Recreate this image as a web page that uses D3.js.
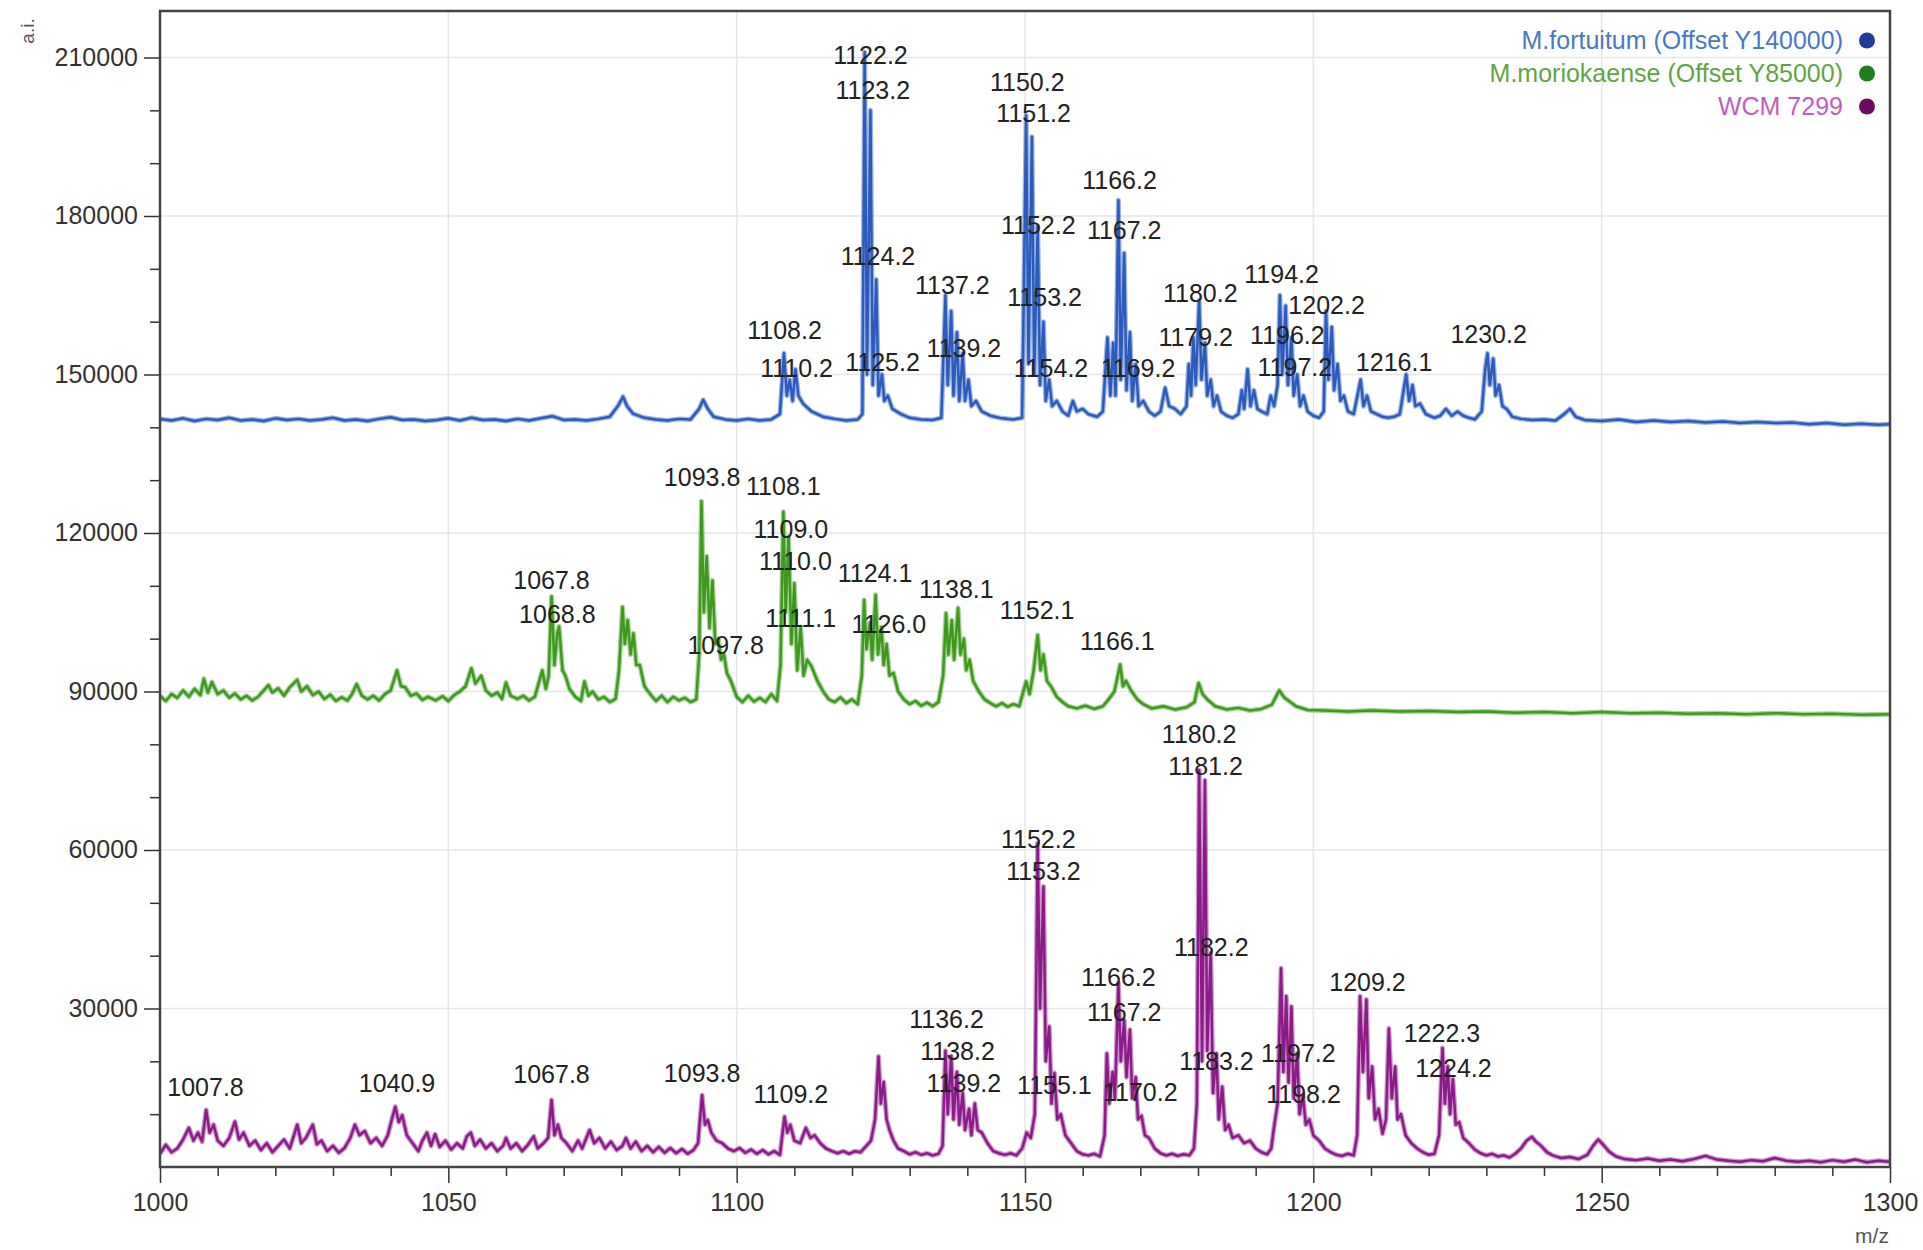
<!DOCTYPE html>
<html>
<head>
<meta charset="utf-8">
<script src="https://cdn.jsdelivr.net/npm/d3@7"></script>
<style>
  body { margin: 0; background: #fff; }
  svg text { font-family: "Liberation Sans", Arial, sans-serif; }
</style>
</head>
<body>
<div id="chart"></div>
<script>
// m/z axis
const xTicks = [1000, 1050, 1100, 1150, 1200, 1250, 1300];
const yTicks = [30000, 60000, 90000, 120000, 150000, 180000, 210000];

const seriesNames = ['M.fortuitum (Offset Y140000)', 'M.moriokaense (Offset Y85000)', 'WCM 7299'];
const seriesOffsets = [140000, 85000, 0];

// M.fortuitum spectrum [m/z, intensity]
const fortuitum = [
  [1000,1600],[1002,1300],[1004,1700],[1006,1200],[1008,1600],[1010,1400],[1012,1800],[1014,1300],[1016,1500],[1018,1200],
  [1020,1700],[1022,1400],[1024,1600],[1026,1300],[1028,1500],[1030,1800],[1032,1300],[1034,1500],[1036,1200],[1038,1600],
  [1040,1900],[1042,1400],[1044,1500],[1046,1200],[1048,1400],[1050,1700],[1052,1300],[1054,1800],[1056,1400],[1058,1500],
  [1060,1200],[1062,1600],[1064,1300],[1066,1700],[1068,2100],[1070,1400],[1072,1500],[1074,1300],[1076,1600],[1078,2000],
  [1079.5,4200],[1080.3,5800],[1081,4000],[1082,2600],[1084,1800],[1086,1500],[1088,1300],[1090,1600],[1092,1500],[1093.5,3500],
  [1094.2,5200],[1095,3500],[1096,2000],[1098,1500],[1100,1300],[1102,1600],[1104,1300],[1106,1500],[1107.5,2500],[1108.2,14000],
  [1108.7,6000],[1109.2,9000],[1109.7,5000],[1110.2,11000],[1110.7,6000],[1111.5,4500],[1113,3000],[1115,2000],[1117,1600],[1119,1300],
  [1121,1500],[1121.8,2500],[1122.2,71000],[1122.6,10000],[1123.2,60000],[1123.6,8000],[1124.2,28000],[1124.6,6000],[1125.2,10000],[1125.6,5000],
  [1126.2,6000],[1127,3500],[1128.5,2500],[1130,1800],[1132,1500],[1134,1400],[1135.5,1800],[1136.2,25000],[1136.6,8000],[1137.2,22000],
  [1137.6,6000],[1138.2,18000],[1138.6,5000],[1139.2,14000],[1139.6,5000],[1140.2,9000],[1140.7,4000],[1141.5,5000],[1142.5,3000],[1144,2200],
  [1146,1700],[1148,1500],[1149.5,1800],[1150.2,59000],[1150.6,12000],[1151.2,55000],[1151.6,10000],[1152.2,38000],[1152.6,8000],[1153.2,20000],
  [1153.6,5000],[1154.2,9000],[1154.7,4000],[1155.5,5000],[1156.5,3000],[1157.5,2200],[1158.3,5000],[1159,3000],[1160,3500],[1161,2500],
  [1162.5,2000],[1163.5,3000],[1164.3,17000],[1164.8,6000],[1165.3,16000],[1165.7,6000],[1166.2,43000],[1166.6,9000],[1167.2,33000],[1167.6,7000],
  [1168.2,18000],[1168.6,5000],[1169.2,12000],[1169.7,4000],[1170.5,5000],[1171.5,3000],[1172.5,2200],[1173.5,3000],[1174.3,7500],[1175,4000],
  [1176,3500],[1177,2500],[1178,4000],[1178.4,12000],[1178.8,6000],[1179.2,17000],[1179.6,8000],[1180.2,24000],[1180.6,9000],[1181.2,16000],
  [1181.6,6000],[1182.2,9000],[1182.7,4000],[1183.3,6000],[1184,3000],[1185,2200],[1186,1800],[1187,2500],[1187.6,7000],[1188,3500],
  [1188.6,11000],[1189.1,4000],[1189.7,7000],[1190.3,3500],[1191,3000],[1192,2500],[1192.6,6000],[1193.2,4000],[1193.8,8000],[1194.2,25000],
  [1194.6,10000],[1195.2,23000],[1195.6,8000],[1196.2,17000],[1196.6,6000],[1197.2,10000],[1197.7,4000],[1198.3,6000],[1199,3000],[1200,2200],
  [1201,1800],[1201.8,3000],[1202.2,22000],[1202.6,9000],[1203.2,19000],[1203.6,7000],[1204.2,12000],[1204.7,5000],[1205.3,6000],[1206,3000],
  [1207,2500],[1208.2,9000],[1208.7,4000],[1209.3,6000],[1210,3000],[1211,2500],[1212,2000],[1213,1800],[1214,2000],[1215,2500],
  [1215.8,8000],[1216.1,10000],[1216.6,5000],[1217.2,8000],[1217.7,4000],[1218.5,4500],[1219.5,2500],[1221,1800],[1222,2200],[1223,3500],
  [1224,2200],[1225,3000],[1226,2200],[1227,1800],[1228,1500],[1229.2,3000],[1229.8,11000],[1230.2,14000],[1230.6,8000],[1231.2,13000],
  [1231.6,6000],[1232.2,8000],[1232.8,4000],[1233.5,3500],[1234.5,2000],[1236,1600],[1238,1400],[1240,1500],[1242,1300],[1243.5,2500],
  [1244.5,3500],[1245.5,2000],[1247,1400],[1250,1200],[1253,1500],[1256,1000],[1259,1300],[1262,1000],[1265,1200],[1268,900],
  [1271,1100],[1274,800],[1277,1000],[1280,800],[1283,900],[1286,600],[1289,800],[1292,500],[1295,700],[1298,500],[1300,600]
];

// M.moriokaense spectrum [m/z, intensity]
const moriokaense = [
  [1000,4200],[1001,3200],[1002,4500],[1003,3800],[1004,5200],[1005,4000],[1006,5500],[1007,4300],[1007.6,7400],[1008.3,4800],
  [1009,6800],[1010,4500],[1011,5200],[1012,3800],[1013,4600],[1014,3500],[1015,4200],[1016,3300],[1017,4000],[1018,5200],
  [1018.8,6200],[1019.5,4800],[1020.5,5600],[1021.5,4200],[1022.5,5800],[1023.8,7200],[1024.5,5000],[1025.5,6000],[1026.5,4300],[1027.5,5000],
  [1028.5,3600],[1029.5,4400],[1030.5,3200],[1031.5,3900],[1032.5,3300],[1033.3,4500],[1034.1,6400],[1035,4200],[1036,3500],[1037,4200],
  [1038,3300],[1039,4500],[1040,5200],[1041.1,9000],[1041.8,6000],[1042.5,5800],[1043.5,4200],[1044.5,4600],[1045.5,3400],[1046.5,4000],
  [1047.8,3300],[1049,4100],[1050,3200],[1051,4300],[1052,5000],[1053,6000],[1054,9400],[1054.7,6500],[1055.7,8000],[1056.5,5200],
  [1057.5,4200],[1058.5,4800],[1059.3,3600],[1060,6700],[1060.8,4200],[1062,3600],[1063,4200],[1064,3300],[1065,4000],[1066.3,9000],
  [1066.9,5500],[1067.4,8000],[1067.9,23000],[1068.4,10000],[1068.9,16000],[1069.2,17300],[1069.8,9000],[1070.3,8000],[1071,5500],[1072,4000],
  [1073,3200],[1073.6,6900],[1074.3,4200],[1075,5000],[1076,3500],[1077,4000],[1078,3000],[1079,3600],[1079.6,9000],[1080.2,21000],
  [1080.6,14000],[1081.1,18500],[1081.6,12000],[1082.1,16000],[1082.6,10000],[1083.2,10000],[1084,6000],[1085,4500],[1086,3200],[1087,4200],
  [1088,3000],[1089,4000],[1090,3300],[1091,3800],[1092,3000],[1093,3500],[1093.5,12000],[1093.9,41000],[1094.3,20000],[1094.8,30600],
  [1095.3,17000],[1095.8,26000],[1096.3,14000],[1096.8,15000],[1097.3,11000],[1097.8,12000],[1098.3,8500],[1099,7000],[1100,4000],[1101,3000],
  [1102,4200],[1103,3100],[1104,3800],[1105,3000],[1106,4500],[1107,3200],[1107.6,10000],[1108.1,39000],[1108.5,20000],[1109.0,34300],
  [1109.5,14000],[1110.0,25500],[1110.5,9000],[1111.1,17200],[1111.6,8000],[1112.2,11000],[1113,9700],[1114,7000],[1115,5000],[1116,3500],
  [1117,3000],[1118,3900],[1119,2800],[1120,3500],[1121,2600],[1121.7,8000],[1122.1,22300],[1122.5,13000],[1123.1,18000],[1123.5,11000],
  [1124.1,23300],[1124.5,12000],[1125.1,17200],[1125.5,10000],[1126.0,14000],[1126.5,8000],[1127.2,8500],[1128,5000],[1129,3500],[1130,2600],
  [1131,3200],[1132,2300],[1133,2900],[1134,2200],[1135,3000],[1135.8,8000],[1136.3,19800],[1136.7,12000],[1137.3,18500],[1137.7,11000],
  [1138.4,20800],[1138.8,12000],[1139.4,15000],[1139.8,9000],[1140.4,11000],[1141,7000],[1142,5000],[1143,3500],[1144,2800],[1145,2200],
  [1146,2800],[1147,2100],[1148,2600],[1149,2200],[1150.2,6900],[1150.8,4500],[1151.5,9000],[1152.2,15700],[1152.7,9000],[1153.2,12000],
  [1153.8,7000],[1154.5,6000],[1155.5,4000],[1156.5,3000],[1157.5,2200],[1159,1800],[1160.5,2300],[1162,1700],[1163.5,2200],[1164.5,3500],
  [1165.5,5000],[1166.5,10100],[1167,6000],[1167.5,7000],[1168.5,5000],[1169.5,3500],[1170.5,2600],[1172,1800],[1174,2200],[1176,1600],
  [1178,2000],[1179.4,3000],[1180.1,6600],[1180.8,4500],[1181.6,3500],[1183,2200],[1185,1600],[1187,1900],[1189,1400],[1191,1700],
  [1192.8,2500],[1194.1,5200],[1195,3800],[1196,3000],[1197,2200],[1199,1500],[1202,1400],[1206,1200],[1210,1400],[1215,1200],
  [1220,1300],[1225,1100],[1230,1200],[1235,1000],[1240,1100],[1245,900],[1250,1100],[1255,900],[1260,1000],[1265,800],
  [1270,900],[1275,700],[1280,900],[1285,700],[1290,800],[1295,600],[1300,700]
];

// WCM 7299 spectrum [m/z, intensity]
const wcm7299 = [
  [1000,2500],[1001,4200],[1002,2800],[1003,3500],[1004,5200],[1005,7400],[1005.8,5000],[1006.6,6500],[1007.3,4800],[1008.0,10800],
  [1008.6,6500],[1009.3,8000],[1010,5000],[1011,4000],[1012,5500],[1013,8600],[1013.7,5200],[1014.5,6500],[1015.5,4000],[1016.5,5000],
  [1017.5,3200],[1018.5,4500],[1019.5,2800],[1020.5,4000],[1021.5,5200],[1022.5,3500],[1023.8,8000],[1024.5,4500],[1025.3,5500],[1026.5,8000],
  [1027.2,4300],[1028,5000],[1029,3000],[1030,4000],[1031,2700],[1032,3600],[1033,5500],[1033.8,8000],[1034.6,6000],[1035.5,6800],
  [1036.5,4500],[1037.5,5500],[1038.5,4000],[1039.5,6000],[1040.2,9000],[1040.8,11400],[1041.4,8500],[1042,9800],[1042.8,6000],[1043.8,4500],
  [1044.8,3000],[1045.5,5000],[1046.3,6500],[1047,4000],[1047.7,6200],[1048.5,3800],[1049.5,5000],[1050.5,3300],[1051.5,4500],[1052.5,3500],
  [1053.2,5800],[1053.9,6500],[1054.6,4000],[1055.5,5200],[1056.5,3500],[1057.5,4500],[1058.5,3000],[1059.5,4000],[1060,5500],[1060.8,3500],
  [1061.8,4500],[1062.8,3000],[1063.8,4200],[1064.8,5800],[1065.5,3500],[1066.5,4500],[1067.3,5500],[1067.9,12700],[1068.4,6000],[1069,8000],
  [1069.6,5500],[1070.5,4500],[1071.5,3000],[1072.5,5000],[1073.2,3500],[1074.5,7000],[1075.3,4500],[1076.2,5500],[1077.2,3500],[1078.2,4800],
  [1079.2,3200],[1080.2,4000],[1080.8,5500],[1081.6,3500],[1082.5,4800],[1083.5,3000],[1084.5,4000],[1085.5,2800],[1086.5,3800],[1087.5,2700],
  [1088.5,3600],[1089.5,2600],[1090.5,3400],[1091.5,2500],[1092.5,3200],[1093.3,4500],[1094.0,13600],[1094.5,8000],[1095,8900],[1095.6,6500],
  [1096.5,5000],[1097.5,4500],[1098.5,3500],[1099.5,3000],[1100.5,3600],[1101.5,2700],[1102.5,3300],[1103.5,2500],[1104.5,3200],[1105.5,2400],
  [1106.5,3000],[1107.5,2300],[1108.3,9500],[1108.8,6500],[1109.3,8000],[1110,5000],[1111,4500],[1112,7400],[1112.8,5500],[1113.5,6000],
  [1114.5,4500],[1115.5,3500],[1116.5,3000],[1117.5,2600],[1118.5,3000],[1119.5,2500],[1120.5,3000],[1121.5,2800],[1122.5,4000],[1123.3,5000],
  [1124.0,9000],[1124.6,20900],[1125,12000],[1125.5,16100],[1126,9000],[1126.5,7000],[1127.2,5000],[1128,3500],[1129,3000],[1130,2400],
  [1131,2800],[1132,2300],[1133,2600],[1134,2200],[1135,2500],[1135.7,4000],[1136.2,22000],[1136.6,10000],[1137.2,21000],[1137.6,9000],
  [1138.2,18000],[1138.6,8000],[1139.2,14000],[1139.6,7000],[1140.3,11000],[1140.7,6000],[1141.3,12000],[1141.8,7000],[1142.5,6500],[1143.5,4500],
  [1144.5,3000],[1145.5,2600],[1146.5,2300],[1147.5,2600],[1148.5,2200],[1149.5,3500],[1150.3,6500],[1151,5500],[1151.7,10000],[1152.2,61300],
  [1152.6,30000],[1153.2,53100],[1153.6,20000],[1154.2,26600],[1154.6,12000],[1155.1,17800],[1155.6,9000],[1156.2,10000],[1157,6000],[1158,4500],
  [1159,3000],[1160,2400],[1161,2200],[1162,2500],[1163,2000],[1163.8,6000],[1164.2,21500],[1164.6,12000],[1165.2,18000],[1165.6,13000],
  [1166.2,34800],[1166.6,20000],[1167.2,27800],[1167.6,17000],[1168.2,26000],[1168.6,13000],[1169.2,17000],[1169.6,9000],[1170.2,9700],[1170.8,6000],
  [1171.5,5500],[1172.5,3500],[1173.5,2600],[1174.5,2200],[1175.5,2500],[1176.5,2100],[1177.5,2400],[1178.5,2200],[1179.3,3500],[1179.8,12000],
  [1180.2,75100],[1180.7,20000],[1181.2,73200],[1181.6,22000],[1182.2,40500],[1182.6,14000],[1183.2,21500],[1183.6,9000],[1184.2,15200],[1184.7,7000],
  [1185.3,8000],[1186,5500],[1187,6000],[1188,4500],[1189,5000],[1190,3500],[1191,2800],[1192,2400],[1192.7,3500],[1193.2,7700],
  [1193.8,12000],[1194.4,37600],[1194.8,18000],[1195.3,32300],[1195.7,16000],[1196.2,30400],[1196.6,13000],[1197.2,21500],[1197.6,10000],[1198.2,13400],
  [1198.7,8000],[1199.3,9000],[1200,6000],[1201,5000],[1202,3500],[1203,2800],[1204,2300],[1205,2100],[1206,2500],[1207,2200],
  [1207.6,6000],[1208.1,32300],[1208.6,18000],[1209.2,31700],[1209.6,13000],[1210.2,19000],[1210.7,9000],[1211.3,11000],[1212,6300],[1212.6,9000],
  [1213.1,26200],[1213.6,13000],[1214.2,19000],[1214.6,9000],[1215.2,10000],[1216,6000],[1217,4500],[1218,3500],[1219,2800],[1220,2300],
  [1221,2500],[1221.8,6000],[1222.4,22500],[1222.8,12000],[1223.3,19000],[1223.7,10000],[1224.2,16600],[1224.7,8000],[1225.3,8500],[1226,5500],
  [1227,4500],[1228,3300],[1229,2600],[1230,2200],[1231,2500],[1232,2000],[1233,2200],[1234,1800],[1235,2500],[1236,3500],
  [1237,5000],[1237.9,5700],[1238.6,4800],[1239.5,4000],[1240.5,2800],[1241.5,2200],[1243,1700],[1244.5,1900],[1246,1500],[1247.5,2300],
  [1248.5,4000],[1249.4,5200],[1250.3,4200],[1251.2,3000],[1252.5,2000],[1254,1500],[1256,1300],[1258,1600],[1260,1200],[1262,1400],
  [1264,1100],[1266,1500],[1268,2100],[1270,1400],[1272,1200],[1274,1000],[1276,1300],[1278,1100],[1280,1700],[1282,1200],
  [1284,1000],[1286,1200],[1288,900],[1290,1300],[1292,1000],[1294,1400],[1296,900],[1298,1200],[1300,1000]
];

// peak annotations [text, m/z, intensity]
const fortuitumLabels = [
  ['1122.2',1123.2,70500],['1123.2',1123.6,63800],['1150.2',1150.4,65400],['1151.2',1151.5,59400],
  ['1166.2',1166.4,46800],['1152.2',1152.3,38200],['1167.2',1167.2,37300],['1124.2',1124.5,32400],
  ['1137.2',1137.4,26900],['1153.2',1153.4,24600],['1180.2',1180.4,25300],['1194.2',1194.5,29000],
  ['1202.2',1202.3,23200],['1108.2',1108.3,18300],['1179.2',1179.6,17100],['1196.2',1195.5,17400],
  ['1230.2',1230.4,17600],['1139.2',1139.4,15000],['1110.2',1110.4,11100],['1125.2',1125.3,12300],
  ['1154.2',1154.5,11100],['1169.2',1169.6,11100],['1197.2',1196.8,11300],['1216.1',1214.0,12300]
];
const moriokaenseLabels = [
  ['1093.8',1094.0,45500],['1108.1',1108.1,43800],['1109.0',1109.4,35700],['1110.0',1110.2,29700],
  ['1124.1',1124.0,27400],['1067.8',1067.9,26000],['1138.1',1138.1,24300],['1068.8',1068.9,19700],
  ['1152.1',1152.1,20400],['1111.1',1111.1,18800],['1126.0',1126.4,17800],['1166.1',1166.0,14600],
  ['1097.8',1098.1,13700]
];
const wcm7299Labels = [
  ['1180.2',1180.2,82000],['1181.2',1181.3,75900],['1152.2',1152.3,62000],['1153.2',1153.2,56000],
  ['1182.2',1182.3,41600],['1209.2',1209.4,34900],['1166.2',1166.2,36000],['1167.2',1167.2,29300],
  ['1136.2',1136.4,27900],['1138.2',1138.3,21900],['1197.2',1197.4,21600],['1222.3',1222.3,25400],
  ['1183.2',1183.2,20000],['1224.2',1224.3,18600],['1139.2',1139.4,15800],['1155.1',1155.1,15400],
  ['1170.2',1170.0,14200],['1198.2',1198.3,13800],['1109.2',1109.4,13800],['1007.8',1007.9,15100],
  ['1040.9',1041.1,15800],['1067.8',1067.9,17500],['1093.8',1094.0,17700]
];

const lineColors = ['#2b5cbd', '#3d9a1c', '#8d1a8a'];
const textColors = ['#4a78c6', '#62a444', '#c25cc0'];
const dotColors = ['#1f3c9c', '#1f7f1f', '#6c0c5e'];

const width = 1923, height = 1250;
const plot = { left: 160, right: 1890, top: 11, bottom: 1167 };

const svg = d3.select('#chart')
    .append('svg')
    .attr('width', width)
    .attr('height', height);

const x = d3.scaleLinear().domain([1000, 1300]).range([plot.left, plot.right]);
const y = d3.scaleLinear().domain([0, 218800]).range([plot.bottom, plot.top]);

// grid
svg.append('g')
    .selectAll('line')
    .data(xTicks)
    .enter()
    .append('line')
    .attr('x1', d => x(d)).attr('x2', d => x(d))
    .attr('y1', plot.top).attr('y2', plot.bottom)
    .attr('stroke', '#e6e6e6')
    .attr('stroke-width', 1.5);

svg.append('g')
    .selectAll('line')
    .data(yTicks)
    .enter()
    .append('line')
    .attr('x1', plot.left).attr('x2', plot.right)
    .attr('y1', d => y(d)).attr('y2', d => y(d))
    .attr('stroke', '#e6e6e6')
    .attr('stroke-width', 1.5);

svg.append('clipPath')
    .attr('id', 'clip')
    .append('rect')
    .attr('x', plot.left).attr('y', plot.top)
    .attr('width', plot.right - plot.left)
    .attr('height', plot.bottom - plot.top);

const spectra = [fortuitum, moriokaense, wcm7299];
const labelSets = [fortuitumLabels, moriokaenseLabels, wcm7299Labels];

// draw bottom series first; a wide pale stroke under the line stands in for the noise band
[2, 1, 0].forEach(i => {
    const off = seriesOffsets[i];
    const line = d3.line()
        .x(d => x(d[0]))
        .y(d => y(d[1] + off));
    svg.append('path')
        .datum(spectra[i])
        .attr('clip-path', 'url(#clip)')
        .attr('d', line)
        .attr('fill', 'none')
        .attr('stroke', lineColors[i])
        .attr('stroke-opacity', 0.45)
        .attr('stroke-width', 5)
        .attr('stroke-linejoin', 'round');
    svg.append('path')
        .datum(spectra[i])
        .attr('clip-path', 'url(#clip)')
        .attr('d', line)
        .attr('fill', 'none')
        .attr('stroke', lineColors[i])
        .attr('stroke-width', 2.5)
        .attr('stroke-linejoin', 'round');
});

// peak labels
labelSets.forEach((set, i) => {
    svg.append('g')
        .selectAll('text')
        .data(set)
        .enter()
        .append('text')
        .attr('x', d => x(d[1]))
        .attr('y', d => y(d[2] + seriesOffsets[i]))
        .attr('dy', '0.35em')
        .attr('text-anchor', 'middle')
        .style('font-size', '25px')
        .style('fill', '#222')
        .text(d => d[0]);
});

// axes
const yMinor = d3.range(10000, 218800, 10000).filter(v => v % 30000 !== 0);
const xMinor = d3.range(1000, 1301, 10).filter(v => v % 50 !== 0);

svg.append('g')
    .attr('transform', `translate(${plot.left},0)`)
    .call(d3.axisLeft(y).tickValues(yMinor).tickSize(10).tickFormat(''))
    .call(g => g.select('.domain').remove())
    .call(g => g.selectAll('line').attr('stroke', '#333').attr('stroke-width', 1.5));

svg.append('g')
    .attr('transform', `translate(${plot.left},0)`)
    .call(d3.axisLeft(y).tickValues(yTicks).tickSize(16).tickPadding(6).tickFormat(d3.format('d')))
    .call(g => g.select('.domain').remove())
    .call(g => g.selectAll('line').attr('stroke', '#333').attr('stroke-width', 1.5))
    .call(g => g.selectAll('text').style('font-size', '25px').style('fill', '#333'));

svg.append('g')
    .attr('transform', `translate(0,${plot.bottom})`)
    .call(d3.axisBottom(x).tickValues(xMinor).tickSize(9).tickFormat(''))
    .call(g => g.select('.domain').remove())
    .call(g => g.selectAll('line').attr('stroke', '#333').attr('stroke-width', 1.5));

svg.append('g')
    .attr('transform', `translate(0,${plot.bottom})`)
    .call(d3.axisBottom(x).tickValues(xTicks).tickSize(16).tickPadding(10).tickFormat(d3.format('d')))
    .call(g => g.select('.domain').remove())
    .call(g => g.selectAll('line').attr('stroke', '#333').attr('stroke-width', 1.5))
    .call(g => g.selectAll('text').style('font-size', '25px').style('fill', '#333'));

// frame
svg.append('rect')
    .attr('x', plot.left).attr('y', plot.top)
    .attr('width', plot.right - plot.left)
    .attr('height', plot.bottom - plot.top)
    .attr('fill', 'none')
    .attr('stroke', '#444')
    .attr('stroke-width', 2.5);

// axis titles
svg.append('text')
    .attr('transform', 'translate(27,31) rotate(-90)')
    .attr('text-anchor', 'middle')
    .attr('dy', '0.35em')
    .style('font-size', '19px')
    .style('fill', '#555')
    .text('a.i.');

svg.append('text')
    .attr('x', 1872).attr('y', 1236)
    .attr('text-anchor', 'middle')
    .attr('dy', '0.35em')
    .style('font-size', '21px')
    .style('fill', '#555')
    .text('m/z');

// legend
const legend = svg.append('g')
    .selectAll('g')
    .data(seriesNames)
    .enter()
    .append('g')
    .attr('transform', (d, i) => `translate(0,${40.5 + i * 33})`);

legend.append('text')
    .attr('x', 1843)
    .attr('dy', '0.35em')
    .attr('text-anchor', 'end')
    .style('font-size', '25px')
    .style('fill', (d, i) => textColors[i])
    .text(d => d);

legend.append('circle')
    .attr('cx', 1867)
    .attr('r', 8)
    .attr('fill', (d, i) => dotColors[i]);
</script>
</body>
</html>
